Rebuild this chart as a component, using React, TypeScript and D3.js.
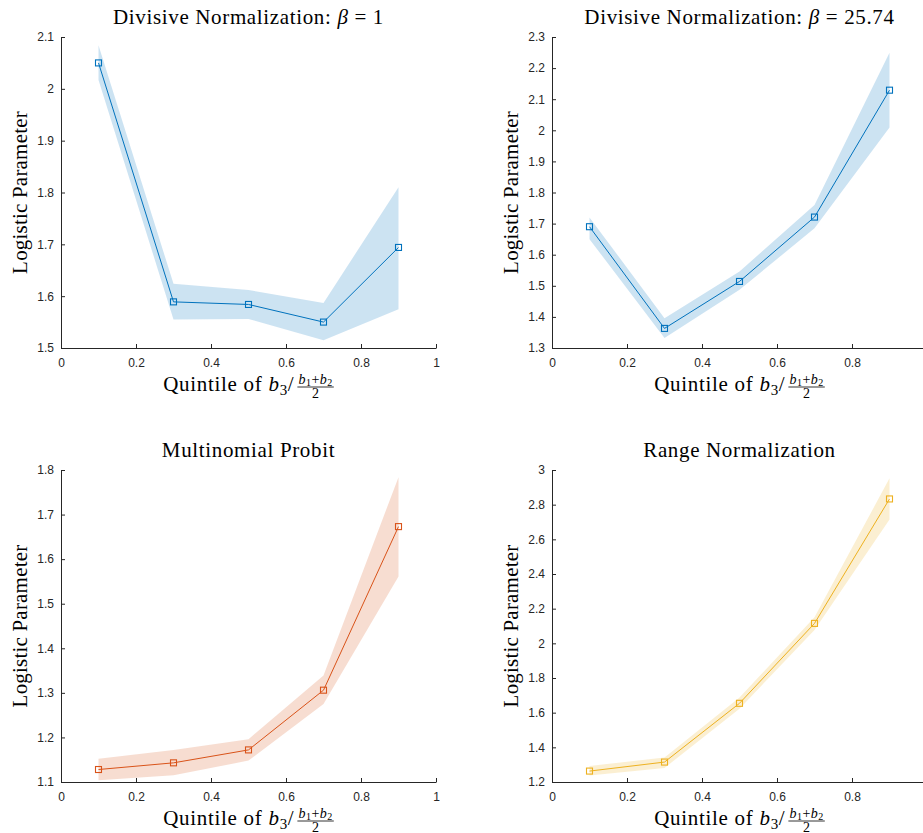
import React, { useEffect, useRef } from "react";
import * as d3 from "d3";

const W = 923;
const H = 833;

// ---- data ----
const xQuintiles = [0.1, 0.3, 0.5, 0.7, 0.9];
const xTicks = [0, 0.2, 0.4, 0.6, 0.8, 1];

const dn1Mean = [2.05, 1.589, 1.584, 1.55, 1.694];
const dn1Lower = [2.017, 1.555, 1.556, 1.515, 1.575];
const dn1Upper = [2.084, 1.624, 1.612, 1.587, 1.81];
const dn1Ticks = [1.5, 1.6, 1.7, 1.8, 1.9, 2, 2.1];

const dn2Mean = [1.69, 1.363, 1.514, 1.721, 2.129];
const dn2Lower = [1.65, 1.332, 1.487, 1.685, 2.009];
const dn2Upper = [1.72, 1.396, 1.546, 1.76, 2.249];
const dn2Ticks = [1.3, 1.4, 1.5, 1.6, 1.7, 1.8, 1.9, 2, 2.1, 2.2, 2.3];

const mnpMean = [1.128, 1.143, 1.172, 1.306, 1.673];
const mnpLower = [1.104, 1.115, 1.148, 1.275, 1.561];
const mnpUpper = [1.152, 1.172, 1.196, 1.339, 1.784];
const mnpTicks = [1.1, 1.2, 1.3, 1.4, 1.5, 1.6, 1.7, 1.8];

const rnMean = [1.263, 1.315, 1.654, 2.115, 2.833];
const rnLower = [1.238, 1.281, 1.623, 2.077, 2.715];
const rnUpper = [1.292, 1.342, 1.688, 2.15, 2.952];
const rnTicks = [1.2, 1.4, 1.6, 1.8, 2, 2.2, 2.4, 2.6, 2.8, 3];

type Panel = {
  titlePre: string;
  titleBeta: boolean;
  titlePost: string;
  mean: number[];
  lower: number[];
  upper: number[];
  ticks: number[];
  color: string;
  left: number;
  top: number;
  bottom: number;
};

const panels: Panel[] = [
  { titlePre: "Divisive Normalization: ", titleBeta: true, titlePost: " = 1", mean: dn1Mean, lower: dn1Lower, upper: dn1Upper, ticks: dn1Ticks, color: "#0072BD", left: 61, top: 37, bottom: 348 },
  { titlePre: "Divisive Normalization: ", titleBeta: true, titlePost: " = 25.74", mean: dn2Mean, lower: dn2Lower, upper: dn2Upper, ticks: dn2Ticks, color: "#0072BD", left: 552, top: 37, bottom: 348 },
  { titlePre: "Multinomial Probit", titleBeta: false, titlePost: "", mean: mnpMean, lower: mnpLower, upper: mnpUpper, ticks: mnpTicks, color: "#D95319", left: 61, top: 470, bottom: 782 },
  { titlePre: "Range Normalization", titleBeta: false, titlePost: "", mean: rnMean, lower: rnLower, upper: rnUpper, ticks: rnTicks, color: "#EDB120", left: 552, top: 470, bottom: 782 },
];

const SERIF = "'Liberation Serif', 'Times New Roman', serif";
const SANS = "'Liberation Sans', Arial, Helvetica, sans-serif";
const AX = "#262626";
const PW = 375;

function drawPanel(svg: d3.Selection<SVGSVGElement, unknown, null, undefined>, p: Panel) {
  const x = d3.scaleLinear().domain([0, 1]).range([p.left, p.left + PW]);
  const y = d3
    .scaleLinear()
    .domain([p.ticks[0], p.ticks[p.ticks.length - 1]])
    .range([p.bottom, p.top]);
  const g = svg.append("g");

  const area = d3
    .area<number>()
    .x((_, i) => x(xQuintiles[i]))
    .y0((_, i) => y(p.lower[i]))
    .y1((_, i) => y(p.upper[i]));
  g.append("path")
    .attr("d", area(p.mean) as string)
    .attr("fill", p.color)
    .attr("fill-opacity", 0.2)
    .attr("stroke", "none");

  const line = d3
    .line<number>()
    .x((_, i) => x(xQuintiles[i]))
    .y((d) => y(d));
  g.append("path")
    .attr("d", line(p.mean) as string)
    .attr("fill", "none")
    .attr("stroke", p.color)
    .attr("stroke-width", 1);

  g.selectAll("rect.mk")
    .data(p.mean)
    .join("rect")
    .attr("class", "mk")
    .attr("x", (_, i) => x(xQuintiles[i]) - 3)
    .attr("y", (d) => y(d) - 3)
    .attr("width", 6)
    .attr("height", 6)
    .attr("fill", "none")
    .attr("stroke", p.color)
    .attr("stroke-width", 1.1);

  // axes
  const fmt = d3.format("~g");
  const xa = g
    .append("g")
    .attr("transform", `translate(0,${p.bottom})`)
    .call(
      d3
        .axisBottom(x)
        .tickValues(xTicks)
        .tickFormat((d) => fmt(d as number))
        .tickSizeInner(-4)
        .tickSizeOuter(0)
        .tickPadding(10)
    );
  const ya = g
    .append("g")
    .attr("transform", `translate(${p.left},0)`)
    .call(
      d3
        .axisLeft(y)
        .tickValues(p.ticks)
        .tickFormat((d) => fmt(d as number))
        .tickSizeInner(-4)
        .tickSizeOuter(0)
        .tickPadding(7)
    );
  [xa, ya].forEach((a) => {
    a.select(".domain").attr("stroke", AX).attr("stroke-width", 1);
    a.selectAll(".tick line").attr("stroke", AX).attr("stroke-width", 1);
    a.selectAll(".tick text")
      .attr("fill", AX)
      .style("font-family", SANS)
      .style("font-size", "12px");
  });

  const cx = p.left + PW / 2;

  // title
  const t = g
    .append("text")
    .attr("x", cx)
    .attr("y", p.top - 13)
    .attr("text-anchor", "middle")
    .style("font-family", SERIF)
    .style("font-size", "21px")
    .style("letter-spacing", "0.65px")
    .style("white-space", "pre")
    .attr("fill", "#000");
  t.append("tspan").text(p.titlePre);
  if (p.titleBeta) {
    t.append("tspan").style("font-style", "italic").text("β");
    t.append("tspan").text(p.titlePost);
  }

  // y label
  g.append("text")
    .attr("transform", `translate(${p.left - 34},${(p.top + p.bottom) / 2}) rotate(-90)`)
    .attr("text-anchor", "middle")
    .style("font-family", SERIF)
    .style("font-size", "21px")
    .style("letter-spacing", "0.2px")
    .attr("fill", "#000")
    .text("Logistic Parameter");

  // x label with fraction
  const B = p.bottom + 43;
  const lg = g.append("g");
  const main = lg
    .append("text")
    .attr("x", 0)
    .attr("y", 0)
    .style("font-family", SERIF)
    .style("font-size", "21px")
    .style("letter-spacing", "0.7px")
    .attr("fill", "#000");
  main.append("tspan").text("Quintile of ");
  main.append("tspan").style("font-style", "italic").text("b");
  main.append("tspan").style("font-size", "15px").attr("dy", 4).text("3");
  main.append("tspan").attr("dy", -4).text("/");
  const w1 = (main.node() as SVGTextElement).getBBox().width;

  const num = lg
    .append("text")
    .attr("y", -7)
    .style("font-family", SERIF)
    .style("font-size", "14px")
    .style("letter-spacing", "0.5px")
    .attr("fill", "#000");
  num.append("tspan").style("font-style", "italic").text("b");
  num.append("tspan").style("font-size", "10px").attr("dy", 2).text("1");
  num.append("tspan").attr("dy", -2).text("+");
  num.append("tspan").style("font-style", "italic").text("b");
  num.append("tspan").style("font-size", "10px").attr("dy", 2).text("2");
  const w2 = (num.node() as SVGTextElement).getBBox().width;
  const fx = w1 + 3;
  num.attr("x", fx + 1);
  lg.append("line")
    .attr("x1", fx)
    .attr("x2", fx + w2 + 2)
    .attr("y1", -4)
    .attr("y2", -4)
    .attr("stroke", "#000")
    .attr("stroke-width", 0.8);
  lg.append("text")
    .attr("x", fx + 1 + w2 / 2)
    .attr("y", 7)
    .attr("text-anchor", "middle")
    .style("font-family", SERIF)
    .style("font-size", "14px")
    .attr("fill", "#000")
    .text("2");
  const total = fx + w2 + 2;
  lg.attr("transform", `translate(${cx - total / 2},${B})`);
}

export default function App() {
  const ref = useRef<SVGSVGElement>(null);
  useEffect(() => {
    if (!ref.current) return;
    const svg = d3.select(ref.current);
    svg.selectAll("*").remove();
    svg.append("rect").attr("width", W).attr("height", H).attr("fill", "#fff");
    panels.forEach((p) => drawPanel(svg, p));
  }, []);
  return (
    <svg
      ref={ref}
      width={W}
      height={H}
      style={{ position: "absolute", left: 0, top: 0, background: "#fff" }}
    />
  );
}
